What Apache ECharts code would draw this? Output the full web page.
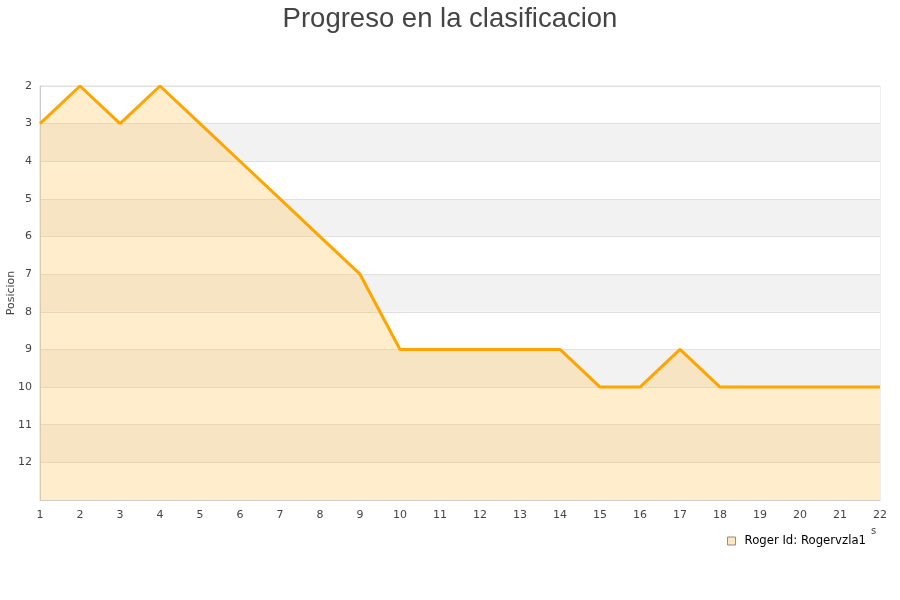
<!DOCTYPE html>
<html><head><meta charset="utf-8">
<script src="https://cdn.jsdelivr.net/npm/echarts@6/dist/echarts.min.js"></script>
<style>html,body{margin:0;padding:0;background:#fff}#c{width:900px;height:600px}</style>
</head><body><div id="c"></div>
<script>
const jornadas = [1,2,3,4,5,6,7,8,9,10,11,12,13,14,15,16,17,18,19,20,21,22];
const posiciones = [3,2,3,2,3,4,5,6,7,9,9,9,9,9,10,10,9,10,10,10,10,10];
const seriesName = 'Roger Id: Rogervzla1';
const chartTitle = 'Progreso en la clasificacion';
const yName = 'Posicion';

const chart = echarts.init(document.getElementById('c'), null, {renderer:'canvas'});
chart.setOption({
  animation:false,
  backgroundColor:'#fff',
  title:{text:chartTitle,left:'center',top:0,textStyle:{fontFamily:'Liberation Sans, Arial, sans-serif',fontSize:27.5,fontWeight:'normal',color:'#444'}},
  grid:{left:40,right:20,top:86,bottom:100,containLabel:false,outerBoundsMode:'none',show:true,borderColor:'#ddd',borderWidth:1,backgroundColor:'transparent'},
  legend:{right:29,top:530,itemWidth:8,itemHeight:8,icon:'rect',textStyle:{fontFamily:'DejaVu Sans, sans-serif',fontSize:11.7,color:'#000',padding:[0,0,0,4]},
    data:[{name:seriesName,itemStyle:{color:'#FFE8C0',borderColor:'#8a8a8a',borderWidth:1}}]},
  xAxis:{type:'value',min:1,max:22,interval:1,
    axisLine:{lineStyle:{color:'#ccc'}},axisTick:{show:false},splitLine:{show:false},
    axisLabel:{color:'#444',fontSize:11,fontFamily:'DejaVu Sans, sans-serif',margin:10}},
  yAxis:{type:'value',inverse:true,min:2,max:13,interval:1,name:yName,nameLocation:'middle',nameGap:23,nameMoveOverlap:false,
    nameTextStyle:{color:'#444',fontSize:11,fontFamily:'DejaVu Sans, sans-serif'},
    axisLine:{show:true,lineStyle:{color:'#ccc'}},axisTick:{show:false},
    axisLabel:{color:'#444',fontSize:11,fontFamily:'DejaVu Sans, sans-serif',margin:8,formatter:v=>v===13?'':String(v)},
    splitLine:{show:true,lineStyle:{color:'#e0e0e0'}},
    splitArea:{show:true,areaStyle:{color:['#ffffff','#f2f2f2']}}},
  graphic:[{type:'text',left:871,top:526,style:{text:'s',fontSize:10,fontFamily:'DejaVu Sans, sans-serif',fill:'#444'}}],
  series:[{name:seriesName,type:'line',data:jornadas.map((x,i)=>[x,posiciones[i]]),
    showSymbol:false,symbol:'none',
    lineStyle:{color:'#FFA500',width:3},itemStyle:{color:'#FFA500'},
    areaStyle:{origin:'end',color:'rgba(255,197,90,0.31)',opacity:1}}]
});
</script></body></html>
